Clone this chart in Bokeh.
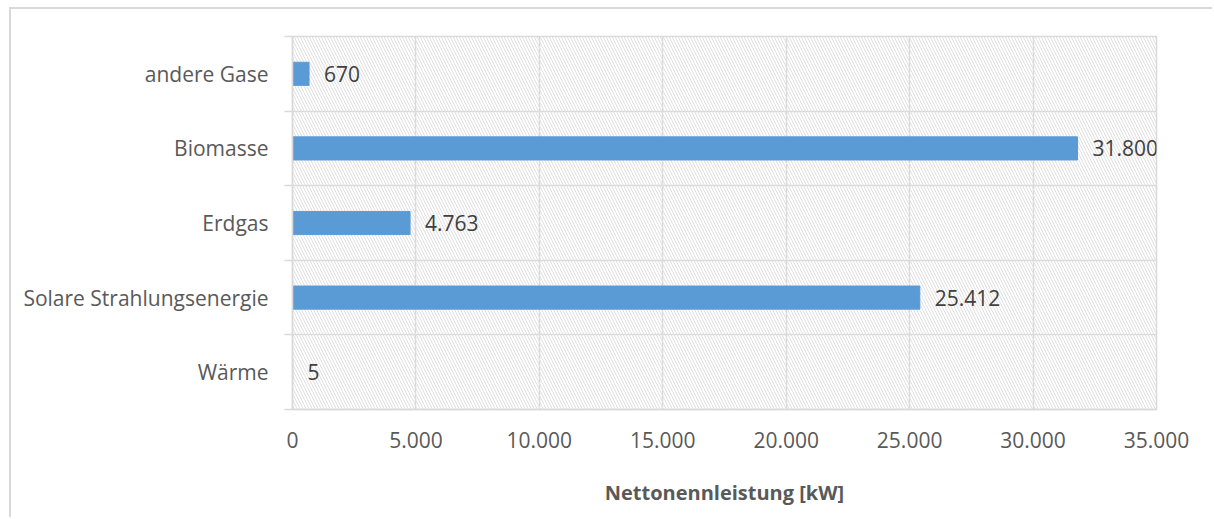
from bokeh.plotting import figure
from bokeh.models import Range1d, FixedTicker, BoxAnnotation, ColumnDataSource
from bokeh.core.properties import value
from bokeh.embed import file_html
from bokeh.resources import INLINE

# ---- data ----
categories = ["Wärme", "Solare Strahlungsenergie", "Erdgas", "Biomasse", "andere Gase"]
values = [5, 25412, 4763, 31800, 670]
x_ticks = [0, 5000, 10000, 15000, 20000, 25000, 30000, 35000]
x_title = "Nettonennleistung [kW]"

def de_fmt(v):
    return f"{v:,}".replace(",", ".")

n = len(categories)
y_pos = [i + 0.5 for i in range(n)]
src = ColumnDataSource(dict(
    y=y_pos, v=values, lab=[de_fmt(v) for v in values], cat=categories))

FONT = "Open Sans"
GRID = "#d9d9d9"
TXT = "#595959"

p = figure(width=1203, height=510, output_backend="svg", toolbar_location=None,
           x_range=Range1d(0, x_ticks[-1]), y_range=Range1d(0, n),
           margin=(7, 0, 0, 9))
p.styles = {"border-left": "2px solid #d9d9d9", "border-top": "2px solid #d9d9d9"}
p.min_border_left = 281
p.min_border_top = 27
p.min_border_right = 58
p.min_border_bottom = 110
p.outline_line_color = GRID
p.outline_line_width = 1.5
p.background_fill_color = "white"
p.border_fill_color = "white"

# hatched plot area
p.add_layout(BoxAnnotation(fill_alpha=0, line_color=None, hatch_pattern="\\",
                           hatch_color="#e0e0e0", hatch_scale=6, hatch_weight=1,
                           level="underlay"))

# bars
p.hbar(y="y", right="v", left=0, height=0.31, color="#5b9bd5", source=src)
p.text(x="v", y="y", text="lab", source=src, x_offset=15,
       text_baseline="middle", text_align="left",
       text_font=value(FONT), text_font_size="21px", text_color="#404040")

# x axis
xa = p.xaxis[0]
xa.ticker = FixedTicker(ticks=x_ticks)
xa.major_label_overrides = {t: de_fmt(t) for t in x_ticks}
xa.major_tick_line_color = None
xa.minor_tick_line_color = None
xa.axis_line_color = GRID
xa.axis_line_width = 1.5
xa.major_label_text_font = FONT
xa.major_label_text_font_size = "21px"
xa.major_label_text_color = TXT
xa.major_label_standoff = 16
xa.axis_label = x_title
xa.axis_label_text_font = FONT
xa.axis_label_text_font_style = "bold"
xa.axis_label_text_font_size = "20px"
xa.axis_label_text_color = TXT
xa.axis_label_standoff = 28

# y axis: labels at category centres, tick marks at boundaries
ya = p.yaxis[0]
ya.ticker = FixedTicker(ticks=y_pos, minor_ticks=list(range(n + 1)))
ya.major_label_overrides = {y: c for y, c in zip(y_pos, categories)}
ya.major_tick_in = 0
ya.major_tick_out = 0
ya.minor_tick_in = 0
ya.minor_tick_out = 8
ya.minor_tick_line_color = GRID
ya.minor_tick_line_width = 1.5
ya.axis_line_color = GRID
ya.axis_line_width = 1.5
ya.major_label_text_font = FONT
ya.major_label_text_font_size = "21px"
ya.major_label_text_color = TXT
ya.major_label_standoff = 16

p.xgrid.ticker = FixedTicker(ticks=x_ticks)
p.xgrid.grid_line_color = GRID
p.xgrid.grid_line_width = 1.5
p.ygrid.ticker = FixedTicker(ticks=list(range(1, n)))
p.ygrid.grid_line_color = GRID
p.ygrid.grid_line_width = 1.5

open("out.html", "w").write(file_html(p, INLINE))
